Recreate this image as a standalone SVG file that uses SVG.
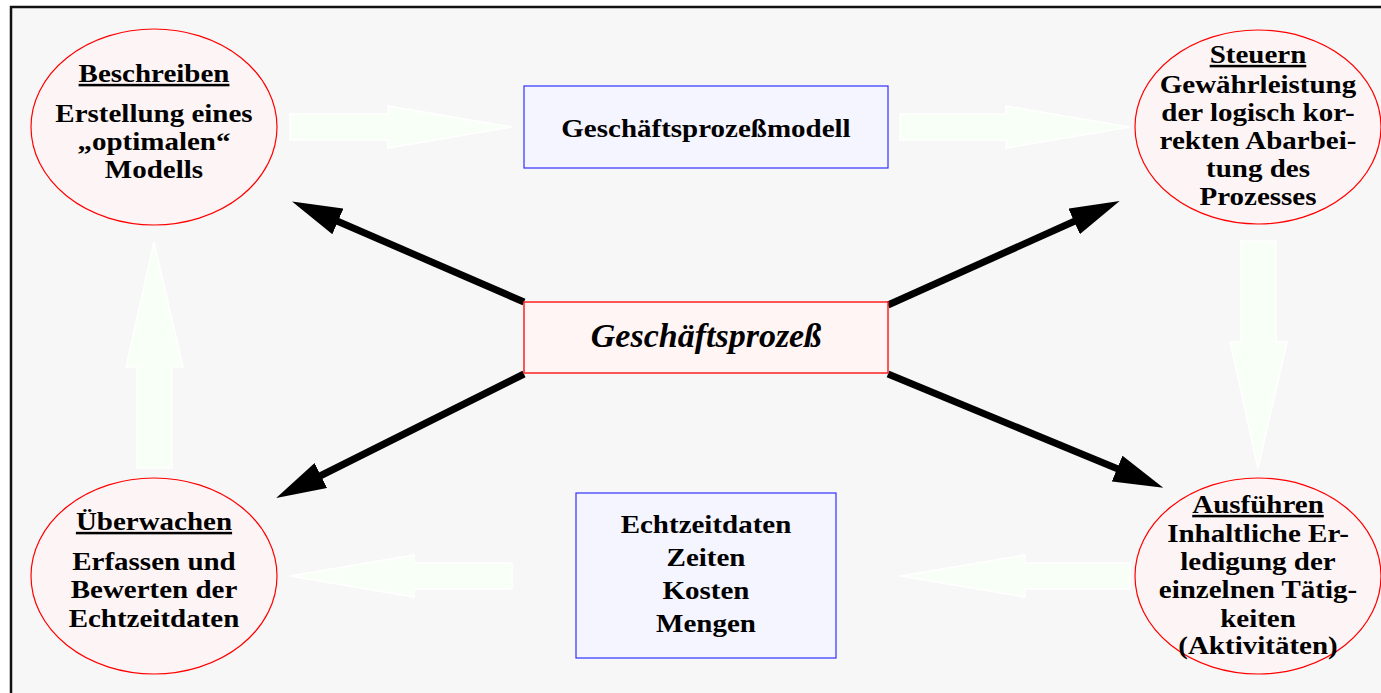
<svg xmlns="http://www.w3.org/2000/svg" width="1381" height="693" viewBox="0 0 1381 693">
<style>
text{font-family:"Liberation Serif","Times New Roman",serif;font-weight:bold;font-size:25px;fill:#000;text-anchor:middle}
.hd{text-decoration:underline}
.ell{fill:#fdf5f5;stroke:#ff0000;stroke-width:1.2}
.blue{fill:#f5f5ff;stroke:#3030ff;stroke-width:1.2}
.red{fill:#fff5f5;stroke:#ff2020;stroke-width:1.5}
.pale{fill:#f8fff6;stroke:#ffffff;stroke-width:1.5}
.conn{stroke:#000;stroke-width:7;fill:none}
.big{font-style:italic;font-size:34px}
</style>
<defs>
<marker id="ah" viewBox="0 0 50 28" markerWidth="50" markerHeight="28" refX="1" refY="14" orient="auto" markerUnits="userSpaceOnUse">
<path d="M0,0 L50,14 L0,28 Z" fill="#000"/>
</marker>
</defs>
<rect x="0" y="0" width="1381" height="693" fill="#ffffff"/>
<rect x="11" y="7" width="1420" height="740" fill="#f7f7f7" stroke="#111" stroke-width="2.5"/>

<g id="pale-arrows">
<polygon class="pale" points="290,114 388,114 388,106 512,127 388,148 388,140 290,140"/>
<polygon class="pale" points="900,114 1006,114 1006,106 1130,127 1006,148 1006,140 900,140"/>
<polygon class="pale" points="512,563 414,563 414,555 290,576 414,597 414,589 512,589"/>
<polygon class="pale" points="1130,563 1025,563 1025,555 900,576 1025,597 1025,589 1130,589"/>
<polygon class="pale" points="137,468 137,367 126,367 154,242 183,367 172,367 172,468"/>
<polygon class="pale" points="1241,241 1276,241 1276,342 1287,342 1258,468 1230,342 1241,342"/>
</g>

<g id="connectors">
<line class="conn" x1="524" y1="302" x2="337" y2="221" marker-end="url(#ah)"/>
<line class="conn" x1="888" y1="305" x2="1075" y2="221" marker-end="url(#ah)"/>
<line class="conn" x1="524" y1="374" x2="320" y2="476" marker-end="url(#ah)"/>
<line class="conn" x1="888" y1="374" x2="1118" y2="469" marker-end="url(#ah)"/>
</g>

<g id="beschreiben">
<ellipse class="ell" cx="154" cy="127" rx="123" ry="98"/>
<g transform="matrix(1.16,0,0,1,-24.64,0)">
<text class="hd" x="154" y="82">Beschreiben</text>
<text x="154" y="122">Erstellung eines</text>
<text x="154" y="150">„optimalen“</text>
<text x="154" y="178">Modells</text>
</g>
</g>

<g id="steuern">
<ellipse class="ell" cx="1258" cy="127" rx="123" ry="97"/>
<g transform="matrix(1.16,0,0,1,-201.28,0)">
<text class="hd" x="1258" y="63">Steuern</text>
<text x="1258" y="93">Gewährleistung</text>
<text x="1258" y="121">der logisch kor-</text>
<text x="1258" y="149">rekten Abarbei-</text>
<text x="1258" y="177">tung des</text>
<text x="1258" y="205">Prozesses</text>
</g>
</g>

<g id="ausfuehren">
<ellipse class="ell" cx="1258" cy="576" rx="123" ry="98"/>
<g transform="matrix(1.16,0,0,1,-201.28,0)">
<text class="hd" x="1258" y="513">Ausführen</text>
<text x="1258" y="542">Inhaltliche Er-</text>
<text x="1258" y="570">ledigung der</text>
<text x="1258" y="598">einzelnen Tätig-</text>
<text x="1258" y="627">keiten</text>
<text x="1258" y="654">(Aktivitäten)</text>
</g>
</g>

<g id="ueberwachen">
<ellipse class="ell" cx="154" cy="576" rx="123" ry="98"/>
<g transform="matrix(1.16,0,0,1,-24.64,0)">
<text class="hd" x="154" y="530">Überwachen</text>
<text x="154" y="570">Erfassen und</text>
<text x="154" y="598">Bewerten der</text>
<text x="154" y="627">Echtzeitdaten</text>
</g>
</g>

<g id="modell">
<rect class="blue" x="524" y="86" width="364" height="82"/>
<g transform="matrix(1.16,0,0,1,-112.96,0)">
<text x="706" y="137">Geschäftsprozeßmodell</text>
</g>
</g>

<g id="prozess">
<rect class="red" x="524" y="302" width="364" height="71"/>
<text class="big" x="706" y="347">Geschäftsprozeß</text>
</g>

<g id="daten">
<rect class="blue" x="576" y="493" width="260" height="165"/>
<g transform="matrix(1.16,0,0,1,-112.96,0)">
<text x="706" y="533">Echtzeitdaten</text>
<text x="706" y="566">Zeiten</text>
<text x="706" y="599">Kosten</text>
<text x="706" y="632">Mengen</text>
</g>
</g>
</svg>
